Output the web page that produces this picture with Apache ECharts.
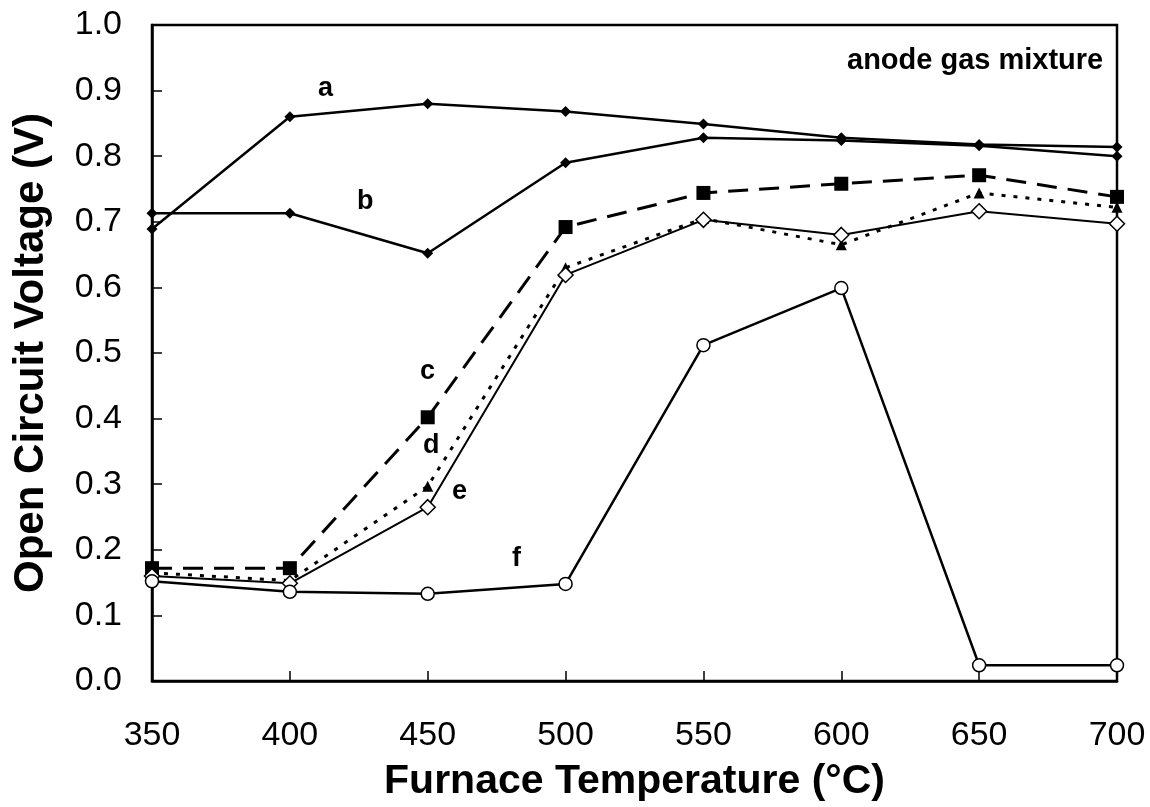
<!DOCTYPE html>
<html>
<head>
    <meta charset="utf-8">
    <title>index</title>
    <style>
        html, body { margin: 0; padding: 0; background: #fff; }
    </style>
</head>
<body>
    <div id="main" style="width: 1150px;height:807px;"></div>
    <script src="https://cdn.jsdelivr.net/npm/echarts@6/dist/echarts.min.js"></script>
    <script>
        // 温度 (°C)
        var temps = [350, 400, 450, 500, 550, 600, 650, 700];
        // 各曲线开路电压 (V)
        var seriesA = [0.689, 0.860, 0.880, 0.868, 0.849, 0.828, 0.818, 0.814];
        var seriesB = [0.713, 0.713, 0.652, 0.790, 0.828, 0.824, 0.816, 0.800];
        var seriesC = [0.172, 0.172, 0.402, 0.692, 0.744, 0.758, 0.771, 0.738];
        var seriesD = [0.165, 0.153, 0.297, 0.630, 0.705, 0.665, 0.744, 0.722];
        var seriesE = [0.160, 0.149, 0.265, 0.619, 0.703, 0.680, 0.716, 0.697];
        var seriesF = [0.152, 0.136, 0.133, 0.148, 0.512, 0.599, 0.024, 0.024];
        var curveNames = ['a', 'b', 'c', 'd', 'e', 'f'];

        var font = "'Liberation Sans', Arial, sans-serif";

        function pairs(vals) {
            return temps.map(function (t, i) { return [t, vals[i]]; });
        }

        var myChart = echarts.init(document.getElementById('main'));

        var option = {
            backgroundColor: '#fff',
            animation: false,
            grid: {
                left: 152,
                right: 33,
                top: 25,
                bottom: 126,
                show: true,
                borderColor: '#000',
                borderWidth: 2.5
            },
            xAxis: {
                type: 'value',
                min: 350,
                max: 700,
                interval: 50,
                name: 'Furnace Temperature (°C)',
                nameLocation: 'middle',
                nameGap: 80,
                nameTextStyle: { fontFamily: font, fontSize: 41, fontWeight: 'bold', color: '#000' },
                axisLine: { lineStyle: { color: '#000', width: 2.5 } },
                axisTick: { inside: true, length: 10, lineStyle: { color: '#000', width: 1.5 } },
                axisLabel: { fontFamily: font, fontSize: 34, color: '#000', margin: 38 },
                splitLine: { show: false }
            },
            yAxis: {
                type: 'value',
                min: 0,
                max: 1,
                interval: 0.1,
                name: 'Open Circuit Voltage (V)',
                nameLocation: 'middle',
                nameGap: 100,
                nameTextStyle: { fontFamily: font, fontSize: 42, fontWeight: 'bold', color: '#000' },
                axisLine: { lineStyle: { color: '#000', width: 2.5 } },
                axisTick: { inside: true, length: 10, lineStyle: { color: '#000', width: 1.5 } },
                axisLabel: {
                    fontFamily: font, fontSize: 34, color: '#000', margin: 30,
                    formatter: function (v) { return v.toFixed(1); }
                },
                splitLine: { show: false }
            },
            // 曲线标注
            graphic: [
                { type: 'text', left: 847, top: 46, style: { text: 'anode gas mixture', font: 'bold 29px ' + font, fill: '#000' } },
                { type: 'text', left: 318, top: 75, style: { text: curveNames[0], font: 'bold 27px ' + font, fill: '#000' } },
                { type: 'text', left: 357, top: 188, style: { text: curveNames[1], font: 'bold 27px ' + font, fill: '#000' } },
                { type: 'text', left: 420, top: 358, style: { text: curveNames[2], font: 'bold 27px ' + font, fill: '#000' } },
                { type: 'text', left: 423, top: 432, style: { text: curveNames[3], font: 'bold 27px ' + font, fill: '#000' } },
                { type: 'text', left: 452, top: 478, style: { text: curveNames[4], font: 'bold 27px ' + font, fill: '#000' } },
                { type: 'text', left: 512, top: 545, style: { text: curveNames[5], font: 'bold 27px ' + font, fill: '#000' } }
            ],
            series: [
                {
                    name: 'a', type: 'line', data: pairs(seriesA),
                    symbol: 'diamond', symbolSize: 11,
                    itemStyle: { color: '#000' },
                    lineStyle: { color: '#000', width: 2.5 }
                },
                {
                    name: 'b', type: 'line', data: pairs(seriesB),
                    symbol: 'diamond', symbolSize: 11,
                    itemStyle: { color: '#000' },
                    lineStyle: { color: '#000', width: 2.5 }
                },
                {
                    name: 'c', type: 'line', data: pairs(seriesC),
                    symbol: 'rect', symbolSize: 14,
                    itemStyle: { color: '#000' },
                    lineStyle: { color: '#000', width: 3, type: [20, 11] }
                },
                {
                    name: 'd', type: 'line', data: pairs(seriesD),
                    symbol: 'triangle', symbolSize: 11,
                    itemStyle: { color: '#000' },
                    lineStyle: { color: '#000', width: 3, type: [4, 8] }
                },
                {
                    name: 'e', type: 'line', data: pairs(seriesE),
                    symbol: 'diamond', symbolSize: 15,
                    itemStyle: { color: '#fff', borderColor: '#000', borderWidth: 1.5 },
                    lineStyle: { color: '#000', width: 2 },
                    z: 3
                },
                {
                    name: 'f', type: 'line', data: pairs(seriesF),
                    symbol: 'circle', symbolSize: 13,
                    itemStyle: { color: '#fff', borderColor: '#000', borderWidth: 1.5 },
                    lineStyle: { color: '#000', width: 2.5 },
                    z: 3
                }
            ]
        };

        myChart.setOption(option);
    </script>
</body>
</html>
